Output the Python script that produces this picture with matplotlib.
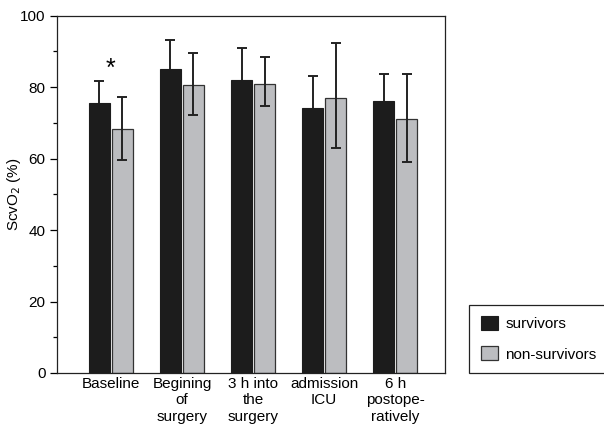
import matplotlib
matplotlib.use("Agg")
import matplotlib.pyplot as plt
import numpy as np

plt.rcParams['font.family'] = ['Liberation Sans', 'DejaVu Sans']

categories = ["Baseline", "Begining\nof\nsurgery", "3 h into\nthe\nsurgery", "admission\nICU", "6 h\npostope-\nratively"]
survivors = [75.5, 85.0, 81.9, 74.1, 76.1]
survivors_err_up = [6.3, 8.3, 9.1, 9.0, 7.5]
non_survivors = [68.3, 80.7, 81.0, 77.0, 71.1]
non_err_low = [8.6, 8.5, 6.3, 14.1, 12.0]
non_err_up = [8.9, 8.9, 7.4, 15.3, 12.5]
star_value = 85.2

fig = plt.figure(figsize=(6.04, 4.33), dpi=100)
ax = fig.add_axes([0.094, 0.1386, 0.643, 0.825])

x = np.arange(len(categories))
w = 0.296
off = 0.162
gray = '#bcbdc0'
ax.bar(x - off, survivors, w, color='#1c1c1c', edgecolor='#1c1c1c', linewidth=0.8, label='survivors', zorder=2)
ax.bar(x + off, non_survivors, w, color=gray, edgecolor='#333333', linewidth=0.9, label='non-survivors', zorder=2)
eb = ax.errorbar(x - off, survivors, yerr=[np.zeros(len(x)), survivors_err_up], fmt='none',
                 ecolor='#222222', elinewidth=1.4, capsize=3.5, capthick=1.4, zorder=3)
eb[1][0].set_visible(False)
ax.errorbar(x + off, non_survivors, yerr=[non_err_low, non_err_up], fmt='none',
            ecolor='#222222', elinewidth=1.4, capsize=3.5, capthick=1.4, zorder=3)
ax.text(x[0], star_value, '*', ha='center', va='center', fontsize=18)

ax.set_xlim(-0.76, 4.70)
ax.set_ylim(0, 100)
ax.set_yticks([0, 20, 40, 60, 80, 100])
ax.set_yticks(np.arange(0, 101, 10), minor=True)
ax.set_xticks(x)
ax.set_xticklabels(categories, fontsize=11, linespacing=1.2)
ax.tick_params(axis='x', length=0, pad=3)
ax.tick_params(axis='y', which='major', length=5, width=0.9, labelsize=11, pad=3)
ax.tick_params(axis='y', which='minor', length=3, width=0.9)
ax.set_ylabel('ScvO$_2$ (%)', fontsize=11)
ax.yaxis.set_label_coords(-0.088, 0.5)
for s in ax.spines.values():
    s.set_linewidth(0.9)
    s.set_color('#222222')

leg = fig.legend(loc='lower left', bbox_to_anchor=(0.777, 0.1386), fontsize=11,
                 fancybox=False, edgecolor='#222222', framealpha=1,
                 handlelength=1.1, handleheight=1.0, borderpad=0.75, labelspacing=1.0,
                 handletextpad=0.5, borderaxespad=0)
leg.get_frame().set_linewidth(0.9)

fig.savefig('out.png', dpi=100)
